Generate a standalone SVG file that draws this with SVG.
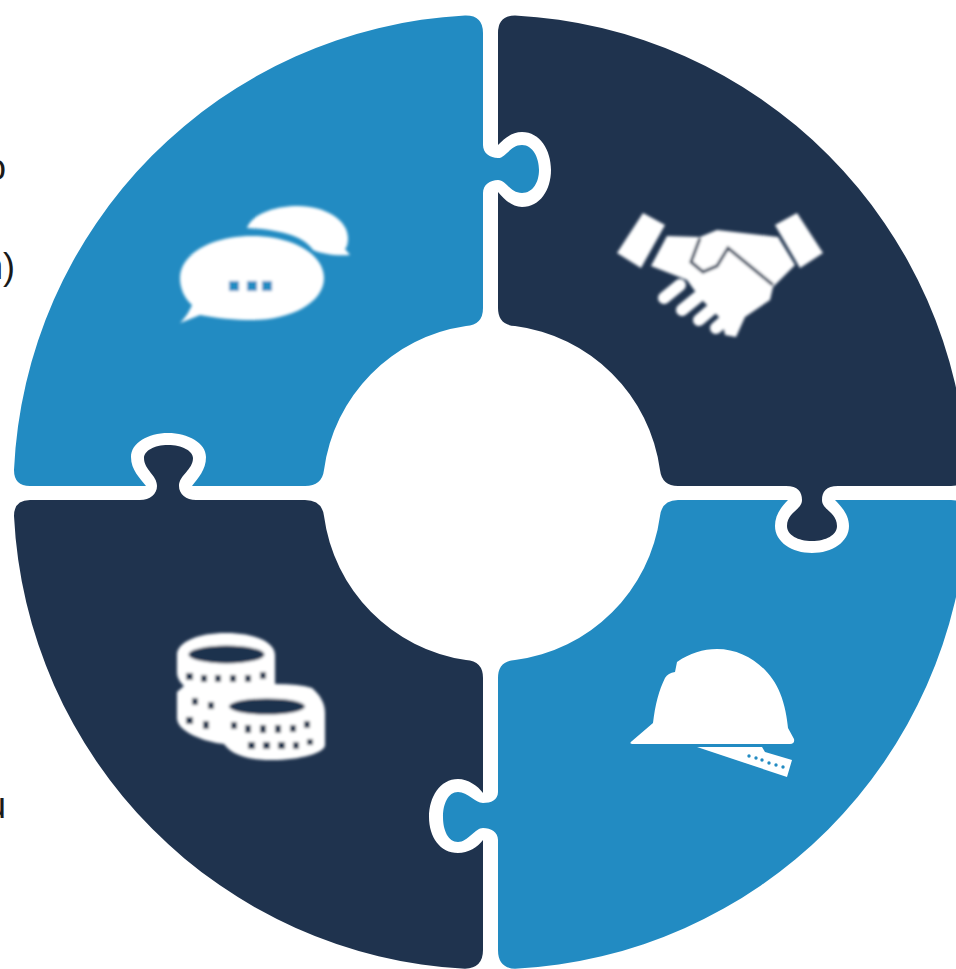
<svg xmlns="http://www.w3.org/2000/svg" width="956" height="969" viewBox="0 0 956 969">
<defs>
<filter id="soft" x="-10%" y="-10%" width="120%" height="120%"><feGaussianBlur stdDeviation="1.4"/></filter>
</defs>
<style>
.blue{fill:#228bc2}
.dark{fill:#1f334e}
.ic{fill:#fff}
.lab{font-family:"Liberation Sans",Arial,sans-serif;font-size:36px;fill:#1a1a1a}
.dl{fill:none;stroke:#1f334e;stroke-width:3}
.fg{fill:none;stroke:#fff;stroke-width:12;stroke-linecap:round}
.bl{fill:#228bc2}
</style>
<rect width="956" height="969" fill="#fff"/>
<g id="labels">
<text class="lab" x="-14" y="180">o</text>
<text class="lab" x="-17" y="279">n)</text>
<text class="lab" x="-14" y="818">u</text>
</g>
<g id="piece-top-left">
<path class="blue" d="M465,15.5Q483,15 483,33V145C483,153 490,158 498,158C506,158 510,145 522,145C533,145 539,158 539,170C539,182 533,193 522,193C510,193 506,180 498,180C490,180 483,185 483,193V308Q483,325 466,326A168,168 0 0 0 324,470Q322,486 305,486H192C198,478 206,470 206,457C206,443 188,433 168,433C148,433 131,443 131,457C131,470 140,478 146,486H30Q14,486 14,470A477,477 0 0 1 465,15.5Z"/>
<g filter="url(#soft)">
<path class="ic" d="M247,228C252,214 275,206 298,206C325,206 348,220 348,238C348,243 347,247 345,249L350,255C335,256 322,254 313,250C305,238 285,230 247,228Z"/>
<path class="ic" d="M180,278C180,254 212,236 252,236C292,236 324,254 324,278C324,302 292,320 252,320C236,320 215,318 200,315L180,323C186,317 190,310 192,305C184,298 180,288 180,278Z"/>
<rect class="bl" x="229" y="281" width="10" height="10"/>
<rect class="bl" x="247" y="281" width="10" height="10"/>
<rect class="bl" x="262" y="281" width="10" height="10"/>
</g>
</g>
<g id="piece-top-right">
<path class="dark" d="M515,15.5A477,477 0 0 1 967,470Q967,486 951,486H838C826,486 822,492 822,500C822,510 837,512 837,526C837,535 826,541 812,541C798,541 787,535 787,526C787,512 802,510 802,500C802,492 798,486 786,486H678Q662,486 660,470A168,168 0 0 0 515,326Q498,325 498,308V192C505,200 512,207 522,207C540,207 551,190 551,170C551,150 540,132 522,132C512,132 505,138 498,145V33Q498,15.5 515,15.5Z"/>
<g filter="url(#soft)">
<path class="ic" d="M643,213L665,225L641,268L617,253Z"/>
<path class="ic" d="M797,213L775,225L800,268L823,253Z"/>
<path class="ic" d="M667,236L700,237L717,230L778,237L795,265L773,287L770,300L745,317L736,337L725,335L722,320L700,298L687,280L651,266Z"/>
<path class="fg" d="M664,298L680,285M682,310L698,297M699,320L712,309M716,328L724,321"/>
<path class="dl" d="M700,238L691,262L703,272L717,266L728,248L773,285"/>
</g>
</g>
<g id="piece-bottom-right">
<path class="blue" d="M678,500H788C780,508 775,516 775,526C775,542 792,553 812,553C832,553 849,542 849,526C849,516 843,508 835,500H951Q967,500 967,516A477,477 0 0 1 515,968.8Q498,968 498,950V840C498,832 491,828 483,828C475,828 468,842 458,842C448,842 443,830 443,817C443,804 448,792 458,792C468,792 475,803 483,803C491,803 498,800 498,792V678Q498,661 515,660A168,168 0 0 0 660,516Q662,500 678,500Z"/>
<path class="ic" d="M632,741L653,723C655,705 659,690 665,678Q668,673 675,672L677,662C690,653 703,649 717,649C745,649 770,668 780,693C785,705 787,718 788,728L794,739Q795,744 790,744H634Q628,744 632,741Z"/>
<path class="ic" d="M697,747H762L765,752L792,760L787,777Z"/>
<g class="bl"><circle cx="749" cy="756" r="1.7"/><circle cx="756" cy="758" r="1.7"/><circle cx="762" cy="760" r="1.7"/><circle cx="769" cy="763" r="1.7"/><circle cx="776" cy="765" r="1.7"/><circle cx="783" cy="767" r="1.7"/></g>
</g>
<g id="piece-bottom-left">
<path class="dark" d="M30,500H140C150,500 157,494 157,486C157,475 144,470 144,458C144,451 154,445 168,445C182,445 193,451 193,458C193,470 179,475 179,486C179,494 186,500 196,500H305Q322,500 324,516A168,168 0 0 0 466,660Q483,661 483,678V793C478,786 468,779 458,779C440,779 429,797 429,817C429,837 440,853 458,853C468,853 478,847 483,840V950Q483,968 465,968.8A477,477 0 0 1 14,516Q14,500 30,500Z"/>
<g filter="url(#soft)">
<path class="ic" d="M177,655C177,642 198,633 226,633C254,633 275,642 275,655V684Q300,684 312,688C320,695 325,703 325,713V745C325,753 300,760 272,760C248,760 232,755 224,744C205,742 177,732 177,718V692L184,686C180,682 177,678 177,672Z"/>
<ellipse class="dark" cx="226.5" cy="654.5" rx="38" ry="9"/>
<ellipse class="dark" cx="267" cy="706.5" rx="38" ry="8"/>
<g class="dark">
<rect x="186" y="673" width="7" height="7"/><rect x="201" y="675" width="6" height="7"/><rect x="215" y="675" width="6" height="7"/><rect x="230" y="675" width="6" height="7"/><rect x="245" y="675" width="6" height="7"/><rect x="260" y="672" width="6" height="7"/>
<rect x="192" y="698" width="6" height="7"/><rect x="208" y="702" width="6" height="7"/>
<rect x="186" y="717" width="7" height="7"/><rect x="203" y="721" width="6" height="8"/><rect x="231" y="722" width="6" height="7"/><rect x="245" y="725" width="6" height="8"/><rect x="260" y="725" width="6" height="8"/><rect x="275" y="725" width="6" height="8"/><rect x="290" y="725" width="6" height="7"/><rect x="304" y="721" width="6" height="7"/>
<rect x="248" y="742" width="7" height="7"/><rect x="263" y="742" width="7" height="7"/><rect x="278" y="742" width="7" height="7"/><rect x="293" y="742" width="6" height="7"/><rect x="307" y="739" width="6" height="6"/>
</g>
</g>
</g>
</svg>
